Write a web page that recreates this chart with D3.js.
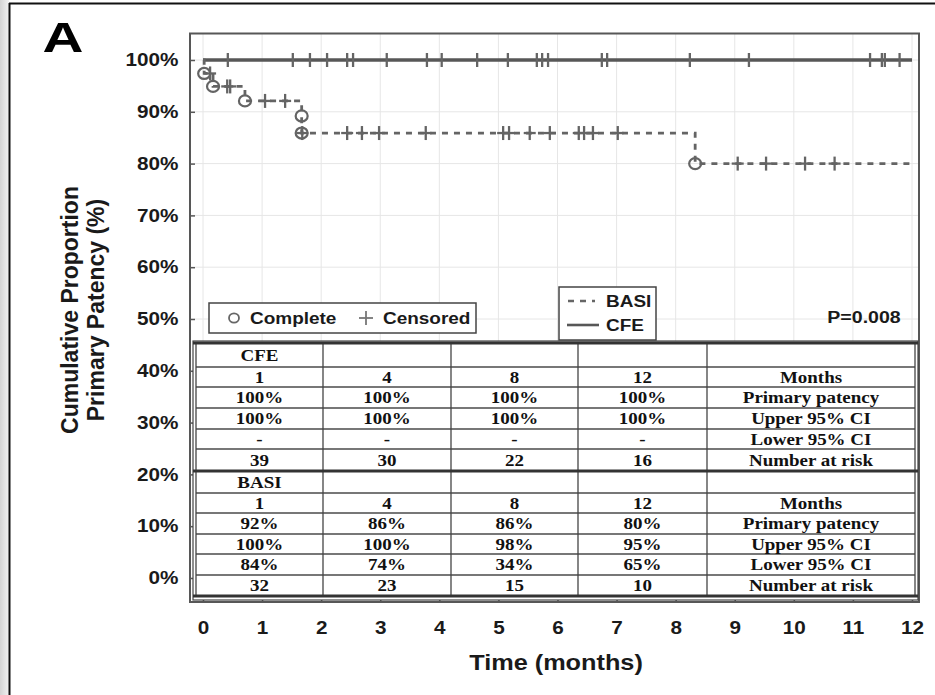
<!DOCTYPE html>
<html>
<head>
<meta charset="utf-8">
<script src="https://cdn.jsdelivr.net/npm/d3@7/dist/d3.min.js"></script>
<style>
  html, body { margin: 0; padding: 0; background: #fff; }
  svg { display: block; }
</style>
</head>
<body>
<svg id="chart" width="935" height="695"></svg>
<script>
// ---- Kaplan–Meier data (months, % patent) ----
const cfeCensored = [0.42, 1.52, 1.81, 2.10, 2.44, 2.54, 3.11, 3.79, 4.04, 4.64, 5.16, 5.65, 5.74, 5.84,
                     6.75, 6.84, 8.24, 9.24, 11.29, 11.49, 11.54, 11.79];
const basiSteps = [
  { t: 0.00, s: 100.0 },
  { t: 0.02, s: 97.4 },
  { t: 0.17, s: 94.9 },
  { t: 0.71, s: 92.1 },
  { t: 1.67, s: 89.2 },
  { t: 1.67, s: 85.9 },
  { t: 8.33, s: 80.0 }
];
const basiCensored = [0.12, 0.41, 0.46, 1.05, 1.39, 1.68, 2.44, 2.69, 2.98, 3.77, 5.08, 5.18, 5.53, 5.87,
                      6.36, 6.45, 6.60, 7.02, 9.05, 9.53, 10.19, 10.69];
const followUpEnd = 12;

// ---- axis ticks ----
const monthTicks = [0, 1, 2, 3, 4, 5, 6, 7, 8, 9, 10, 11, 12];
const percentTicks = [0, 10, 20, 30, 40, 50, 60, 70, 80, 90, 100];

// ---- life table ----
const tableMonths = ["1", "4", "8", "12"];
const rowLabels = ["Months", "Primary patency", "Upper 95% CI", "Lower 95% CI", "Number at risk"];
const cfePatency = ["100%", "100%", "100%", "100%"];
const cfeUpper = ["100%", "100%", "100%", "100%"];
const cfeLower = ["-", "-", "-", "-"];
const cfeRisk = ["39", "30", "22", "16"];
const basiPatency = ["92%", "86%", "86%", "80%"];
const basiUpper = ["100%", "100%", "98%", "95%"];
const basiLower = ["84%", "74%", "34%", "65%"];
const basiRisk = ["32", "23", "15", "10"];
const pValue = "P=0.008";

// ---- drawing ----
const SX = 1.15;               // glyphs in this figure are set slightly wide
const INK = "#575757";
const svg = d3.select("#chart");

const x = d3.scaleLinear().domain([0, 12]).range([203, 912]);
const y = d3.scaleLinear().domain([0, 100]).range([578, 60]);

function label(g, px, py, str, o = {}) {
  return g.append("text")
    .attr("transform", `translate(${px},${py}) scale(${o.sx || SX},1)`)
    .attr("text-anchor", o.anchor || "middle")
    .attr("font-family", o.family || "'Liberation Sans', Arial, sans-serif")
    .attr("font-weight", o.weight || "bold")
    .attr("font-size", o.size || 16)
    .attr("fill", o.fill || "#1a1a1a")
    .text(str);
}

// page frame
const grad = svg.append("defs").append("linearGradient").attr("id", "edge")
  .attr("x1", 0).attr("x2", 1).attr("y1", 0).attr("y2", 0);
grad.append("stop").attr("offset", 0).attr("stop-color", "#d4d4d4");
grad.append("stop").attr("offset", 1).attr("stop-color", "#f2f2f2");
svg.append("rect").attr("x", 0).attr("y", 0).attr("width", 9).attr("height", 695).attr("fill", "url(#edge)");
svg.append("line").attr("x1", 9.5).attr("x2", 9.5).attr("y1", 3).attr("y2", 695).attr("stroke", "#111").attr("stroke-width", 2);
svg.append("line").attr("x1", 9).attr("x2", 935).attr("y1", 3.5).attr("y2", 3.5).attr("stroke", "#111").attr("stroke-width", 2);

// panel letter
label(svg, 63, 52, "A", { size: 42, sx: 1.35, fill: "#000" });

// grid
const grid = svg.append("g").attr("stroke", "#e6e6e6").attr("stroke-width", 1);
grid.selectAll(".gx").data(monthTicks).join("line")
  .attr("x1", d => x(d)).attr("x2", d => x(d)).attr("y1", 34).attr("y2", 601);
grid.selectAll(".gy").data(percentTicks).join("line")
  .attr("x1", 191).attr("x2", 918).attr("y1", d => y(d)).attr("y2", d => y(d));

// axes
const yAxis = svg.append("g").attr("transform", "translate(190,0)")
  .call(d3.axisLeft(y).tickValues(percentTicks).tickFormat(d => d + "%")
    .tickSizeInner(-5).tickSizeOuter(0).tickPadding(10));
yAxis.select(".domain").remove();
yAxis.selectAll("line").attr("stroke", INK).attr("stroke-width", 1.5);
yAxis.selectAll("text")
  .attr("font-family", "'Liberation Sans', Arial, sans-serif").attr("font-weight", "bold")
  .attr("font-size", 18).attr("fill", "#1a1a1a")
  .attr("transform", `scale(${SX},1)`);

const xAxis = svg.append("g").attr("transform", "translate(0,602)")
  .call(d3.axisBottom(x).tickValues(monthTicks).tickFormat(d3.format("d"))
    .tickSizeInner(-5).tickSizeOuter(0).tickPadding(19));
xAxis.select(".domain").remove();
xAxis.selectAll("line").attr("stroke", INK).attr("stroke-width", 1.5);
xAxis.selectAll("text")
  .attr("font-family", "'Liberation Sans', Arial, sans-serif").attr("font-weight", "bold")
  .attr("font-size", 18).attr("fill", "#1a1a1a")
  .attr("transform", `scale(${SX},1)`);

// axis titles
label(svg, 556, 670, "Time (months)", { size: 22 });
const yTitle = svg.append("g").attr("transform", "translate(78,310) rotate(-90)");
label(yTitle, 0, 0, "Cumulative Proportion", { size: 23, sx: 1 });
label(yTitle, 0, 26, "Primary Patency (%)", { size: 23, sx: 1 });

// plot frame
svg.append("rect").attr("x", 190).attr("y", 33.5).attr("width", 729).attr("height", 568.5)
  .attr("fill", "none").attr("stroke", INK).attr("stroke-width", 2);

// survival step lookup
function survivalAt(t) {
  let s = 100;
  basiSteps.forEach(d => { if (d.t <= t) s = d.s; });
  return s;
}

// curves
const stepLine = d3.line().x(d => x(d.t)).y(d => y(d.s)).curve(d3.curveStepAfter);
svg.append("path")
  .attr("d", stepLine([{ t: 0, s: 100 }, { t: followUpEnd, s: 100 }]))
  .attr("fill", "none").attr("stroke", INK).attr("stroke-width", 3.4);
svg.append("path")
  .attr("d", stepLine(basiSteps.concat([{ t: followUpEnd, s: basiSteps[basiSteps.length - 1].s }])))
  .attr("fill", "none").attr("stroke", "#646464").attr("stroke-width", 2.8)
  .attr("stroke-dasharray", "6,6");

// censored marks
function crosses(times, sFn, withArm) {
  const g = svg.append("g").attr("stroke", "#646464").attr("stroke-width", 2.3);
  times.forEach(t => {
    const cx = x(t), cy = y(sFn(t));
    g.append("line").attr("x1", cx).attr("x2", cx).attr("y1", cy - 7).attr("y2", cy + 7);
    if (withArm) g.append("line").attr("x1", cx - 6).attr("x2", cx + 6).attr("y1", cy).attr("y2", cy);
  });
}
crosses(cfeCensored, () => 100, false);
crosses(basiCensored, survivalAt, true);

// events (complete)
svg.append("g").selectAll("ellipse").data(basiSteps.slice(1)).join("ellipse")
  .attr("cx", d => x(d.t)).attr("cy", d => y(d.s)).attr("rx", 6).attr("ry", 5.5)
  .attr("fill", "none").attr("stroke", "#646464").attr("stroke-width", 2.2);

// marker legend
const leg1 = svg.append("g");
leg1.append("rect").attr("x", 209).attr("y", 303).attr("width", 267).attr("height", 30)
  .attr("fill", "#fff").attr("stroke", "#444").attr("stroke-width", 1.5);
leg1.append("ellipse").attr("cx", 234).attr("cy", 318).attr("rx", 5).attr("ry", 4.7)
  .attr("fill", "none").attr("stroke", "#666").attr("stroke-width", 1.8);
label(leg1, 250, 324, "Complete", { anchor: "start", size: 16.5 });
leg1.append("line").attr("x1", 366).attr("x2", 366).attr("y1", 311).attr("y2", 325).attr("stroke", "#777").attr("stroke-width", 1.8);
leg1.append("line").attr("x1", 359).attr("x2", 373).attr("y1", 318).attr("y2", 318).attr("stroke", "#777").attr("stroke-width", 1.8);
label(leg1, 383, 324, "Censored", { anchor: "start", size: 16.5 });

// line legend
const leg2 = svg.append("g");
leg2.append("rect").attr("x", 559).attr("y", 287).attr("width", 97).attr("height", 53)
  .attr("fill", "#fff").attr("stroke", "#444").attr("stroke-width", 1.5);
leg2.append("line").attr("x1", 568).attr("x2", 595).attr("y1", 301).attr("y2", 301)
  .attr("stroke", "#666").attr("stroke-width", 2.4).attr("stroke-dasharray", "6,6");
leg2.append("line").attr("x1", 567).attr("x2", 599).attr("y1", 325).attr("y2", 325)
  .attr("stroke", INK).attr("stroke-width", 2.6);
label(leg2, 606, 307, "BASI", { anchor: "start", size: 16.5 });
label(leg2, 606, 331, "CFE", { anchor: "start", size: 16.5 });

label(svg, 864, 323, pValue, { size: 17 });

// life table
const table = svg.append("g");
const colEdges = [196, 323, 451, 578, 707, 915];
table.append("rect").attr("x", 193).attr("y", 341).attr("width", 725).attr("height", 259)
  .attr("fill", "#fff").attr("stroke", "#444").attr("stroke-width", 1.2);

function section(title, rowsY, values) {
  // horizontal rules
  rowsY.slice(1, -1).forEach(ry => {
    table.append("line").attr("x1", 196).attr("x2", 915).attr("y1", ry).attr("y2", ry)
      .attr("stroke", "#777").attr("stroke-width", 2);
  });
  const mid = i => (rowsY[i] + rowsY[i + 1]) / 2 + 5.5;
  const colMid = j => (colEdges[j] + colEdges[j + 1]) / 2;
  const font = { family: "'Liberation Serif', 'Times New Roman', serif", size: 16.5, fill: "#111" };
  label(table, colMid(0), mid(0), title, font);
  values.forEach((row, r) => {
    row.forEach((v, j) => label(table, colMid(j), mid(r + 1), v, font));
    label(table, colMid(4), mid(r + 1), rowLabels[r], font);
  });
}
section("CFE", [343, 367, 387, 408, 429, 449, 471],
  [tableMonths, cfePatency, cfeUpper, cfeLower, cfeRisk]);
section("BASI", [471, 493, 513, 534, 554, 575, 596],
  [tableMonths, basiPatency, basiUpper, basiLower, basiRisk]);

// column rules and heavy section rules
colEdges.forEach(cx => {
  table.append("line").attr("x1", cx).attr("x2", cx).attr("y1", 343).attr("y2", 596)
    .attr("stroke", "#444").attr("stroke-width", 1.3);
});
[343, 471, 596].forEach(ry => {
  table.append("line").attr("x1", 193).attr("x2", 918).attr("y1", ry).attr("y2", ry)
    .attr("stroke", "#333").attr("stroke-width", 3);
});
</script>
</body>
</html>
